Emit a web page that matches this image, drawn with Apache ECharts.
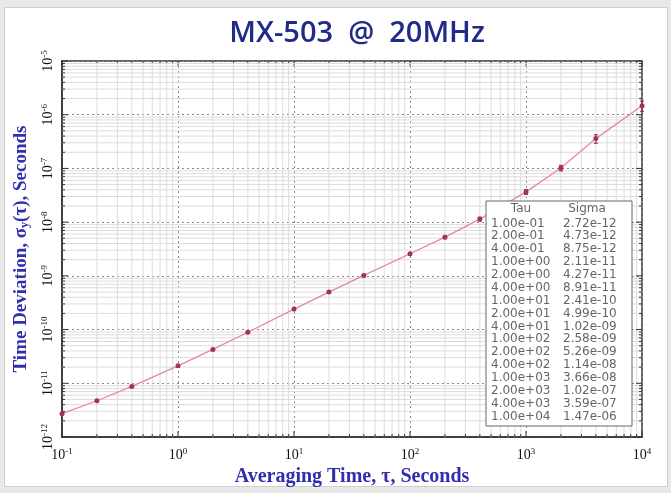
<!DOCTYPE html>
<html><head><meta charset="utf-8">
<script src="https://cdn.jsdelivr.net/npm/echarts@6/dist/echarts.min.js"></script>
<style>
html,body{margin:0;padding:0;width:671px;height:493px;background:#e9e9e9;overflow:hidden}
#card{position:absolute;left:4px;top:7px;width:664px;height:480px;background:#fff;border:1px solid #cfcfcf;box-sizing:border-box}
#c{position:absolute;left:0;top:0;width:671px;height:493px}
</style></head><body>
<div id="card"></div><div id="c"></div>
<script>
// ---- data ----
const tau = [0.1, 0.2, 0.4, 1, 2, 4, 10, 20, 40, 100, 200, 400, 1000, 2000, 4000, 10000];
const sigma = [2.72e-12, 4.73e-12, 8.75e-12, 2.11e-11, 4.27e-11, 8.91e-11, 2.41e-10, 4.99e-10,
               1.02e-9, 2.58e-9, 5.26e-9, 1.14e-8, 3.66e-8, 1.02e-7, 3.59e-7, 1.47e-6];
const errFrac = [0.04, 0.04, 0.04, 0.04, 0.04, 0.04, 0.04, 0.05, 0.05, 0.05, 0.06, 0.08, 0.10, 0.12, 0.18, 0.22];
const xMin = 0.1, xMax = 10000;
const yMin = 1e-12, yMax = 1e-5;
const titleText = 'MX-503  @  20MHz';
const xName = 'Averaging Time, τ, Seconds';
const yNameParts = ['Time Deviation, σ', 'y', '(τ), Seconds'];
const tableHeader = ['Tau', 'Sigma'];

function fmtE(v) {
  const s = v.toExponential(2);
  const [m, e] = s.split('e');
  const n = parseInt(e, 10);
  const sign = n < 0 ? '-' : '+';
  const a = Math.abs(n);
  return m + 'e' + sign + (a < 10 ? '0' + a : '' + a);
}
function expLabel(v) {
  const e = Math.round(Math.log10(v));
  return '{b|10}{s|' + e + '}';
}

// minor grid / tick positions (axis furniture)
const gridItems = [];
for (let k = -1; k < 4; k++) for (let m = 1; m <= 9; m++) {
  const v = m * Math.pow(10, k);
  gridItems.push([v, 1e-9, 0, m === 1 ? 1 : 0]);
}
gridItems.push([xMax, 1e-9, 0, 1]);
for (let k = -12; k < -5; k++) for (let m = 1; m <= 9; m++) {
  const v = m * Math.pow(10, k);
  gridItems.push([1, v, 1, m === 1 ? 1 : 0]);
}
gridItems.push([1, yMax, 1, 1]);

const chart = echarts.init(document.getElementById('c'), null, {renderer: 'canvas'});
const labelRich = {
  b: {fontFamily: 'Liberation Serif', fontSize: 14, color: '#111'},
  s: {fontFamily: 'Liberation Serif', fontSize: 9, color: '#111', padding: [0, 0, 7, 0]}
};

const graphics = [];
const tx = 486, ty = 201, tw = 146, th = 225, rowH = 12.86;
graphics.push({type: 'rect', z: 100, shape: {x: tx, y: ty, width: tw, height: th},
  style: {fill: '#ffffff', stroke: '#666', lineWidth: 1}});
graphics.push({type: 'text', z: 101, x: 521, y: 209, style: {text: tableHeader[0], fill: '#666',
  font: '12px "DejaVu Sans"', align: 'center', verticalAlign: 'middle'}});
graphics.push({type: 'text', z: 101, x: 587, y: 209, style: {text: tableHeader[1], fill: '#666',
  font: '12px "DejaVu Sans"', align: 'center', verticalAlign: 'middle'}});
tau.forEach((t, i) => {
  const yy = 223.5 + i * rowH;
  graphics.push({type: 'text', z: 101, x: 491, y: yy, style: {text: fmtE(t), fill: '#666',
    font: '12px "DejaVu Sans"', align: 'left', verticalAlign: 'middle'}});
  graphics.push({type: 'text', z: 101, x: 563, y: yy, style: {text: fmtE(sigma[i]), fill: '#666',
    font: '12px "DejaVu Sans"', align: 'left', verticalAlign: 'middle'}});
});

chart.setOption({
  animation: false,
  title: {text: titleText, left: 352, top: 14, textAlign: 'center',
    textStyle: {fontFamily: 'Open Sans', fontWeight: 600, fontSize: 29, color: '#1f2a8a'}},
  grid: {left: 62, top: 61, right: 29, bottom: 56, show: true, borderColor: '#333', borderWidth: 1.5,
    backgroundColor: 'transparent'},
  xAxis: {type: 'log', logBase: 10, min: xMin, max: xMax, interval: 1,
    name: xName, nameLocation: 'middle', nameGap: 30,
    nameTextStyle: {fontFamily: 'Liberation Serif', fontWeight: 'bold', fontSize: 20, color: '#2f2fb0'},
    axisLine: {show: true, lineStyle: {color: '#333', width: 1.5}},
    axisTick: {show: false},
    axisLabel: {formatter: expLabel, rich: labelRich, margin: 10},
    splitLine: {show: true, lineStyle: {color: '#888', type: [2, 3], width: 1}}
  },
  yAxis: {type: 'log', logBase: 10, min: yMin, max: yMax, interval: 1,
    name: yNameParts[0] + '{sub|' + yNameParts[1] + '}' + yNameParts[2],
    nameLocation: 'middle', nameGap: 31, nameRotate: 90,
    nameTextStyle: {fontFamily: 'Liberation Serif', fontWeight: 'bold', fontSize: 19, color: '#2f2fb0',
      rich: {sub: {fontFamily: 'Liberation Serif', fontWeight: 'bold', fontSize: 12, color: '#2f2fb0', padding: [8, 0, 0, 0]}}},
    axisLine: {show: true, lineStyle: {color: '#333', width: 1.5}},
    axisTick: {show: false},
    axisLabel: {formatter: expLabel, rich: labelRich, rotate: 90, margin: 6},
    splitLine: {show: true, lineStyle: {color: '#888', type: [2, 3], width: 1}}
  },
  series: [
    {type: 'custom', name: 'grid', silent: true, z: 1,
      dimensions: ['x', 'y', 't', 'major'], encode: {x: 0, y: 1},
      data: gridItems,
      renderItem: function (params, api) {
        const cs = params.coordSys;
        const isY = api.value(2) === 1, major = api.value(3) === 1;
        const L = major ? 6 : 3;
        const children = [];
        const st = {stroke: '#dcdcdc', lineWidth: 1};
        const tk = {stroke: '#333', lineWidth: 1};
        if (!isY) {
          const px = api.coord([api.value(0), 1e-9])[0];
          if (!major) children.push({type: 'line', shape: {x1: px, y1: cs.y, x2: px, y2: cs.y + cs.height}, style: st});
          children.push({type: 'line', shape: {x1: px, y1: cs.y + cs.height, x2: px, y2: cs.y + cs.height - L}, style: tk});
          children.push({type: 'line', shape: {x1: px, y1: cs.y, x2: px, y2: cs.y + L}, style: tk});
        } else {
          const py = api.coord([1, api.value(1)])[1];
          if (!major) children.push({type: 'line', shape: {x1: cs.x, y1: py, x2: cs.x + cs.width, y2: py}, style: st});
          children.push({type: 'line', shape: {x1: cs.x, y1: py, x2: cs.x + L, y2: py}, style: tk});
          children.push({type: 'line', shape: {x1: cs.x + cs.width, y1: py, x2: cs.x + cs.width - L, y2: py}, style: tk});
        }
        return {type: 'group', children: children};
      }
    },
    {type: 'line', name: 'sigma', z: 3,
      data: tau.map((t, i) => [t, sigma[i]]),
      symbol: 'circle', symbolSize: 5,
      itemStyle: {color: '#a3335a'},
      lineStyle: {color: '#e3899c', width: 1.3}
    },
    {type: 'custom', name: 'err', z: 4,
      dimensions: ['x', 'lo', 'hi'], encode: {x: 0, y: [1, 2]},
      data: tau.map((t, i) => [t, sigma[i] * (1 - errFrac[i]), sigma[i] * (1 + errFrac[i])]),
      renderItem: function (params, api) {
        const p1 = api.coord([api.value(0), api.value(1)]);
        const p2 = api.coord([api.value(0), api.value(2)]);
        const st = {stroke: '#a3335a', lineWidth: 1.2};
        return {type: 'group', children: [
          {type: 'line', shape: {x1: p1[0], y1: p1[1], x2: p2[0], y2: p2[1]}, style: st},
          {type: 'line', shape: {x1: p1[0] - 2, y1: p1[1], x2: p1[0] + 2, y2: p1[1]}, style: st},
          {type: 'line', shape: {x1: p2[0] - 2, y1: p2[1], x2: p2[0] + 2, y2: p2[1]}, style: st}
        ]};
      }
    }
  ],
  graphic: graphics
});
</script>
</body></html>
